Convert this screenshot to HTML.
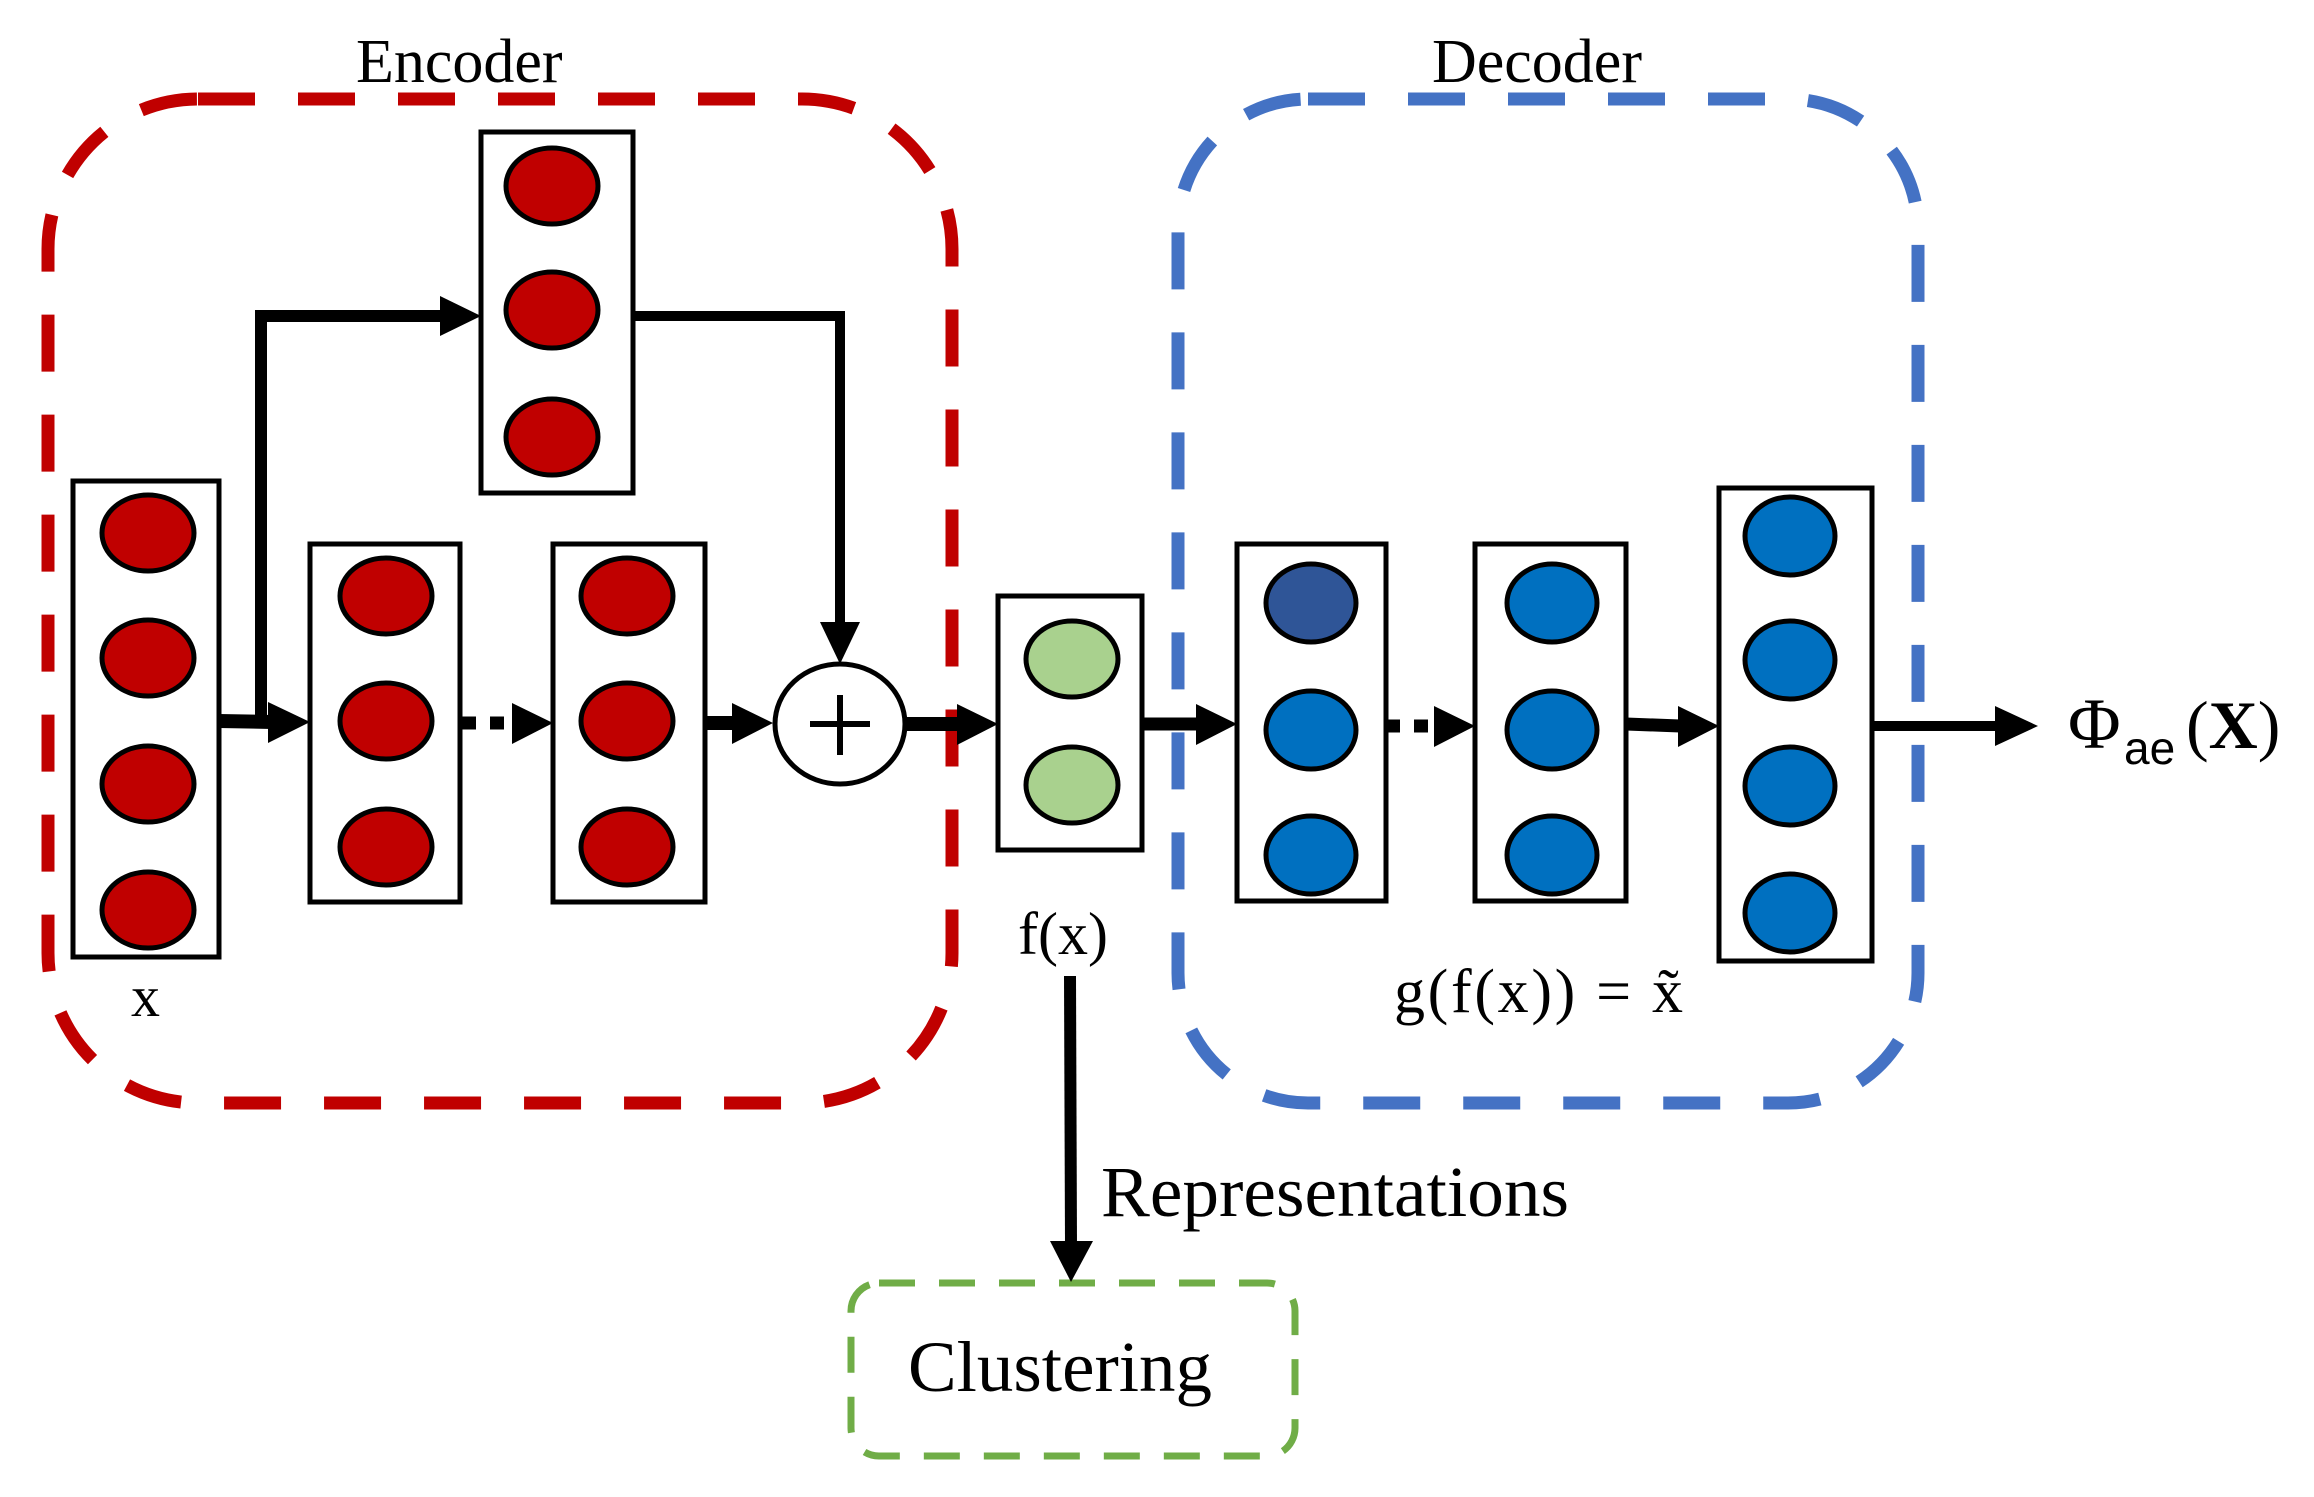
<!DOCTYPE html>
<html><head><meta charset="utf-8"><style>
html,body{margin:0;padding:0;background:#fff;}
svg{display:block;}
text{font-family:"Liberation Serif",serif;fill:#000;}
</style></head><body>
<svg width="2314" height="1497" viewBox="0 0 2314 1497" xmlns="http://www.w3.org/2000/svg">
<!-- dashed frames -->
<rect x="48" y="99" width="904" height="1004" rx="150" ry="150" fill="none" stroke="#C00000" stroke-width="13" stroke-dasharray="57 43"/>
<rect x="1178" y="99" width="740" height="1004" rx="130" ry="130" fill="none" stroke="#4472C4" stroke-width="13" stroke-dasharray="57 43"/>
<rect x="851" y="1283" width="444" height="173" rx="28" ry="28" fill="none" stroke="#70AD47" stroke-width="7" stroke-dasharray="36 24"/>

<!-- labels -->
<text x="356" y="82" font-size="62">Encoder</text>
<text x="1432" y="82" font-size="62">Decoder</text>
<text x="131" y="1016" font-size="58">x</text>
<text x="1018" y="954" font-size="60">f(x)</text>
<text x="1394" y="1012" font-size="62" textLength="289" lengthAdjust="spacing">g(f(x)) = x̃</text>
<text x="2068" y="748" font-size="72">Φ</text>
<text x="2124" y="764" font-size="46" style="font-family:'Liberation Sans',sans-serif">ae</text>
<text x="2186" y="748" font-size="68">(<tspan font-weight="bold">X</tspan>)</text>
<text x="1101" y="1216" font-size="72" textLength="468" lengthAdjust="spacingAndGlyphs">Representations</text>
<text x="908" y="1391" font-size="72" textLength="304" lengthAdjust="spacingAndGlyphs">Clustering</text>

<!-- connectors -->
<g stroke="#000" fill="none">
<path d="M219,721 L272,722" stroke-width="14"/>
<path d="M261,722 L261,316 L445,316" stroke-width="12"/>
<path d="M633,316 L840,316 L840,625" stroke-width="10"/>
<path d="M462,723 L476,723 M490,723 L504,723" stroke-width="13"/>
<path d="M705,723 L735,723" stroke-width="14"/>
<path d="M906,724 L960,724" stroke-width="14"/>
<path d="M1141,724 L1200,724" stroke-width="13"/>
<path d="M1386,726 L1400,726 M1414,726 L1428,726" stroke-width="13"/>
<path d="M1626,724 L1680,726" stroke-width="13"/>
<path d="M1872,726 L2000,726" stroke-width="10"/>
<path d="M1070,976 L1071,1245" stroke-width="12"/>
</g>
<g fill="#000">
<polygon points="268,702 310,722 268,743"/>
<polygon points="440,296 481,316 440,336"/>
<polygon points="820,622 840,664 860,622"/>
<polygon points="512,703 553,723 512,744"/>
<polygon points="732,703 773,723 732,744"/>
<polygon points="957,704 998,724 957,745"/>
<polygon points="1196,704 1237,724 1196,745"/>
<polygon points="1434,706 1475,726 1434,747"/>
<polygon points="1678,706 1719,726 1678,747"/>
<polygon points="1995,706 2038,726 1995,746"/>
<polygon points="1050,1241 1071,1282 1093,1241"/>
</g>

<!-- boxes -->
<g stroke="#000" stroke-width="5" fill="#fff">
<rect x="73" y="481" width="146" height="476"/>
<rect x="310" y="544" width="150" height="358"/>
<rect x="553" y="544" width="152" height="358"/>
<rect x="481" y="132" width="152" height="361"/>
<rect x="998" y="596" width="144" height="254"/>
<rect x="1237" y="544" width="149" height="357"/>
<rect x="1475" y="544" width="151" height="357"/>
<rect x="1719" y="488" width="153" height="473"/>
<ellipse cx="840" cy="724" rx="65" ry="60"/>
</g>
<path d="M810,724 L870,724 M840,695 L840,755" stroke="#000" stroke-width="6"/>

<!-- neurons -->
<g stroke="#000" stroke-width="5" fill="#C00000">
<ellipse cx="148" cy="533" rx="46" ry="38"/>
<ellipse cx="148" cy="658" rx="46" ry="38"/>
<ellipse cx="148" cy="784" rx="46" ry="38"/>
<ellipse cx="148" cy="910" rx="46" ry="38"/>
<ellipse cx="386" cy="596" rx="46" ry="38"/>
<ellipse cx="386" cy="721" rx="46" ry="38"/>
<ellipse cx="386" cy="847" rx="46" ry="38"/>
<ellipse cx="627" cy="596" rx="46" ry="38"/>
<ellipse cx="627" cy="721" rx="46" ry="38"/>
<ellipse cx="627" cy="847" rx="46" ry="38"/>
<ellipse cx="552" cy="186" rx="46" ry="38"/>
<ellipse cx="552" cy="310" rx="46" ry="38"/>
<ellipse cx="552" cy="437" rx="46" ry="38"/>
</g>
<g stroke="#000" stroke-width="5" fill="#A9D18E">
<ellipse cx="1072" cy="659" rx="46" ry="38"/>
<ellipse cx="1072" cy="785" rx="46" ry="38"/>
</g>
<g stroke="#000" stroke-width="5" fill="#0070C0">
<ellipse cx="1311" cy="603" rx="45" ry="39" fill="#2F5597"/>
<ellipse cx="1311" cy="730" rx="45" ry="39"/>
<ellipse cx="1311" cy="855" rx="45" ry="39"/>
<ellipse cx="1552" cy="603" rx="45" ry="39"/>
<ellipse cx="1552" cy="730" rx="45" ry="39"/>
<ellipse cx="1552" cy="855" rx="45" ry="39"/>
<ellipse cx="1790" cy="536" rx="45" ry="39"/>
<ellipse cx="1790" cy="660" rx="45" ry="39"/>
<ellipse cx="1790" cy="786" rx="45" ry="39"/>
<ellipse cx="1790" cy="913" rx="45" ry="39"/>
</g>
</svg>
</body></html>
